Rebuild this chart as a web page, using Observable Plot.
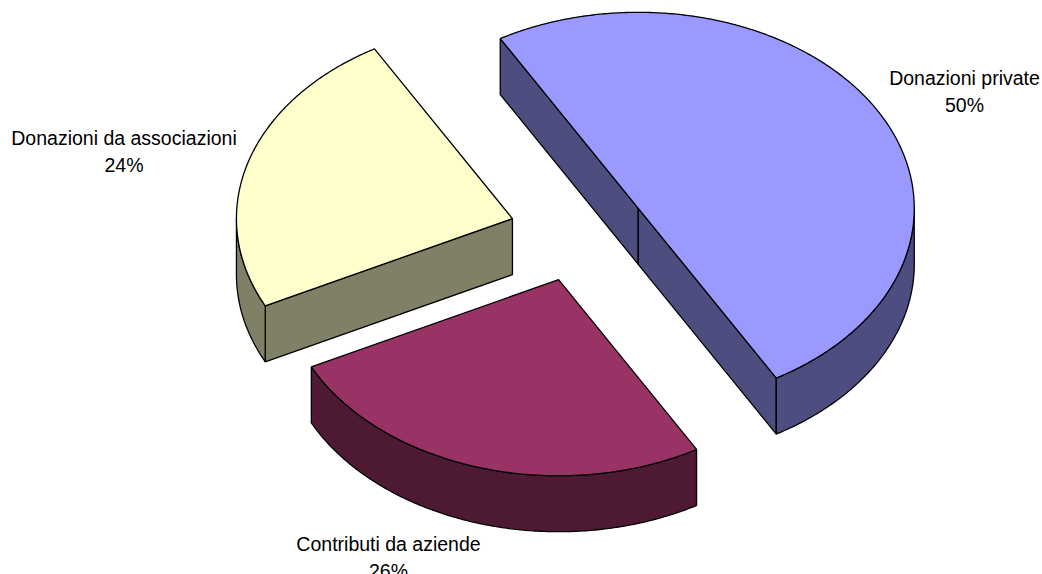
<!DOCTYPE html>
<html><head><meta charset="utf-8">
<script src="https://cdn.jsdelivr.net/npm/d3@7"></script>
<script src="https://cdn.jsdelivr.net/npm/@observablehq/plot@0.6"></script>
<style>html,body{margin:0;padding:0;background:#fff;overflow:hidden}svg{display:block}</style>
</head><body><div id="chart"></div>
<script>
const categories = ["Donazioni private", "Contributi da aziende", "Donazioni da associazioni"];
const shares = [50, 26, 24];
const percentLabels = ["50%", "26%", "24%"];
const topColors = ["#9999FF", "#993366", "#FFFFCC"];
const sideColors = ["#4D4D80", "#4D1933", "#808066"];

const W = 1042, H = 574;
const cx = 578, cy = 232.3, rx = 276, ry = 196, depth = 56, explode = 0.25, startDeg = -30;
const rad = Math.PI / 180;
const at = (c, deg, drop = 0) => ({x: c.x + rx * Math.sin(deg * rad), y: c.y - ry * Math.cos(deg * rad) + drop});
const total = d3.sum(shares);
let acc = startDeg;
const slices = categories.map((name, i) => {
  const a0 = acc, a1 = acc + shares[i] / total * 360; acc = a1;
  const mid = (a0 + a1) / 2;
  const c = {x: cx + explode * rx * Math.sin(mid * rad), y: cy - explode * ry * Math.cos(mid * rad)};
  return {name, i, a0, a1, c};
});
const arcPts = (c, a0, a1, drop = 0) => {
  const n = Math.ceil(Math.abs(a1 - a0) * 2);
  return d3.range(n + 1).map(k => at(c, a0 + (a1 - a0) * k / n, drop));
};
const faces = [];
const addFace = (pts, key) => {
  const id = faces.length ? faces[faces.length - 1].id + 1 : 0;
  [...pts, pts[0]].forEach(p => faces.push({...p, id, key}));
};
for (const s of slices) {
  const side = "side" + s.i, top = "top" + s.i;
  // inner walls that face the viewer
  for (const a of [s.a0, s.a1]) {
    const e = at(s.c, a);
    const normalDown = a === s.a0 ? Math.cos((a - 90) * rad) : Math.cos((a + 90) * rad);
    if (normalDown < 0) {
      addFace([{...s.c}, e, {x: e.x, y: e.y + depth}, {x: s.c.x, y: s.c.y + depth}], side);
    }
  }
  // outer rim: only the part of the arc on the lower half (90..270 deg)
  const lo = Math.max(s.a0, 90), hi = Math.min(s.a1, 270);
  if (hi > lo) {
    addFace([...arcPts(s.c, lo, hi), ...arcPts(s.c, hi, lo, depth)], side);
  }
  // top face
  addFace([{...s.c}, ...arcPts(s.c, s.a0, s.a1)], top);
}
const colorDomain = [...slices.map(s => "top" + s.i), ...slices.map(s => "side" + s.i)];
const labelX = [964, 388, 123.5];
const labelY = [89.5, 555.5, 149.5];
const labels = categories.map((name, i) => ({text: name + "\n" + percentLabels[i], x: labelX[i], y: labelY[i]}));

const chart = Plot.plot({
  width: W, height: H, margin: 0,
  x: {domain: [0, W], range: [0, W], axis: null},
  y: {domain: [0, H], range: [0, H], axis: null},
  color: {domain: colorDomain, range: [...topColors, ...sideColors]},
  style: {background: "#fff", overflow: "hidden"},
  marks: [
    Plot.line(faces, {x: "x", y: "y", z: "id", fill: "key", stroke: "#000", strokeWidth: 1.3, curve: "linear", strokeLinejoin: "miter"}),
    Plot.text(labels, {x: "x", y: "y", text: "text", fill: "#000", fontSize: 19.5, lineHeight: 1.36, fontFamily: "Liberation Sans, Arial, sans-serif", textAnchor: "middle"})
  ]
});
document.getElementById("chart").appendChild(chart);
</script></body></html>
